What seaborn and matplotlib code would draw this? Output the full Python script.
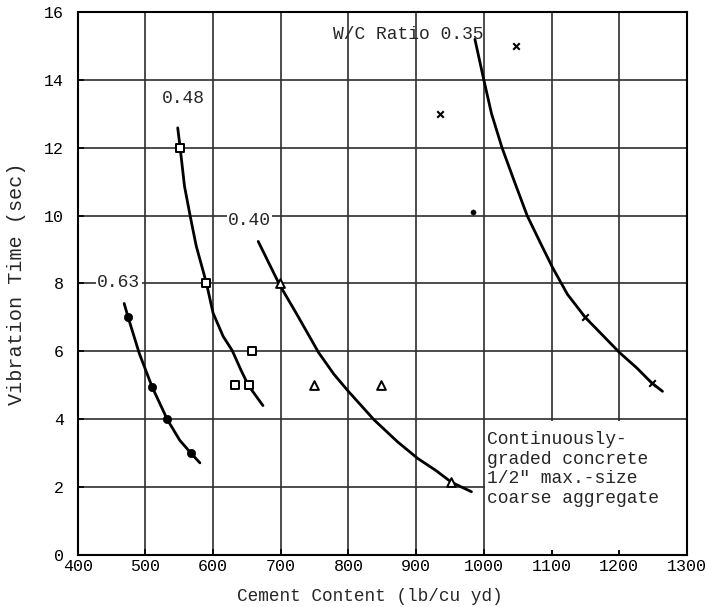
import matplotlib
matplotlib.use("Agg")
import matplotlib.pyplot as plt
import seaborn as sns
from matplotlib.patches import Rectangle

# fitted curves (cement content, vibration time)
curve_063_x = [468.7, 474.6, 491, 510, 532.4, 550.7, 567.2, 580.6]
curve_063_y = [7.41, 7.0, 5.94, 4.95, 3.99, 3.38, 3.0, 2.71]
curve_048_x = [547.8, 551.4, 557.8, 566.3, 575.2, 590.1, 600, 614.9, 628.4, 640.9, 652.3, 673.7]
curve_048_y = [12.59, 12.0, 10.87, 9.98, 9.1, 8.02, 7.13, 6.44, 6.02, 5.46, 4.99, 4.4]
curve_040_x = [666.7, 698, 723.8, 756, 778.3, 799, 837.8, 872.6, 902.4, 929.6, 952, 981.7]
curve_040_y = [9.24, 7.97, 7.09, 5.96, 5.33, 4.84, 3.98, 3.33, 2.84, 2.48, 2.14, 1.86]
curve_035_x = [986.8, 1000, 1011.3, 1026.9, 1044.5, 1064, 1084.4, 1101.5, 1123.5,
               1150.2, 1174.7, 1200, 1225.9, 1247.8, 1263.9]
curve_035_y = [15.2, 14.0, 13.01, 12.0, 11.04, 10.0, 9.16, 8.47, 7.68,
               6.99, 6.49, 5.97, 5.51, 5.07, 4.82]

# measured points
pts_063_x = [475, 510, 532, 567]
pts_063_y = [7.0, 4.95, 4.0, 3.0]
pts_048_x = [551, 590, 632, 653, 658]
pts_048_y = [12.0, 8.0, 5.0, 5.0, 6.0]
pts_040_x = [699, 749, 848, 952]
pts_040_y = [8.0, 5.0, 5.0, 2.14]
pts_035_x = [935, 1047, 1150, 1248]
pts_035_y = [13.0, 15.0, 7.0, 5.07]
dot_x = [984]
dot_y = [10.1]

curve_labels = ["0.63", "0.48", "0.40", "W/C Ratio 0.35"]
label_x = [429, 524, 622, 777]
label_y = [8.04, 13.46, 9.86, 15.33]

sns.set_theme(style="ticks")
plt.rcParams["font.family"] = ["Liberation Mono", "DejaVu Sans"]

fig = plt.figure(figsize=(7.06, 6.07), dpi=100)
ax = fig.add_axes([0.110, 0.086, 0.863, 0.894])

for cx, cy in [(curve_063_x, curve_063_y), (curve_048_x, curve_048_y),
               (curve_040_x, curve_040_y), (curve_035_x, curve_035_y)]:
    sns.lineplot(x=cx, y=cy, sort=False, color="black", lw=2.0, ax=ax, zorder=3)

sns.scatterplot(x=pts_063_x, y=pts_063_y, marker="o", s=36, color="black",
                edgecolor="black", ax=ax, zorder=4)
sns.scatterplot(x=pts_048_x, y=pts_048_y, marker="s", s=26, facecolor="white",
                edgecolor="black", linewidth=1.4, ax=ax, zorder=4)
sns.scatterplot(x=pts_040_x, y=pts_040_y, marker="^", s=40, facecolor="white",
                edgecolor="black", linewidth=1.4, ax=ax, zorder=4)
sns.scatterplot(x=pts_035_x, y=pts_035_y, marker="x", s=22, color="black",
                linewidth=1.5, ax=ax, zorder=4)
sns.scatterplot(x=dot_x, y=dot_y, marker="o", s=14, color="black",
                edgecolor="black", ax=ax, zorder=4)

ax.set_xlim(400, 1300)
ax.set_ylim(0, 16)
ax.set_xticks(range(400, 1301, 100))
ax.set_yticks(range(0, 17, 2))
ax.set_axisbelow(True)
ax.grid(True, color="#2e2e2e", lw=1.2)
ax.tick_params(direction="in", length=4, width=1.2, labelsize=12, colors="black")
ax.tick_params(axis="y", pad=10)
ax.tick_params(axis="x", pad=3)
for sp in ax.spines.values():
    sp.set_linewidth(1.5)
    sp.set_color("black")

# blank panel for the note in the lower right
ax.add_patch(Rectangle((1002, 0.14), 297, 3.8, facecolor="white",
                       edgecolor="none", zorder=1))

for txt, tx, ty in zip(curve_labels, label_x, label_y):
    if txt.startswith("W/C"):
        ax.text(tx, ty, txt, fontsize=13, va="center", ha="left", zorder=5)
    else:
        ax.text(tx, ty, txt, fontsize=13, va="center", ha="left", zorder=5,
                bbox=dict(facecolor="white", edgecolor="none", pad=1))

ax.text(1005, 3.65, "Continuously-\ngraded concrete\n1/2\" max.-size\ncoarse aggregate",
        fontsize=13, va="top", ha="left", linespacing=1.2, zorder=5)

ax.set_xlabel("Cement Content (lb/cu yd)", fontsize=12.8)
ax.xaxis.set_label_coords(0.479, -0.061)
ax.set_ylabel("Vibration Time (sec)", fontsize=14.5)
ax.yaxis.set_label_coords(-0.084, 0.5)

fig.savefig("out.png", dpi=100)
